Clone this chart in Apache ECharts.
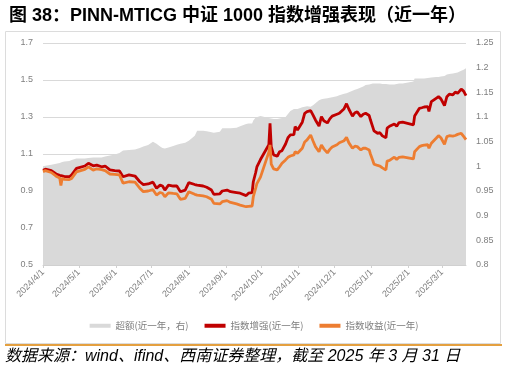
<!DOCTYPE html>
<html>
<head>
<meta charset="utf-8">
<script src="https://cdn.jsdelivr.net/npm/echarts@6/dist/echarts.min.js"></script>
<style>
  html, body { margin: 0; padding: 0; background: #fff; }
  #chart { width: 508px; height: 376px; }
</style>
</head>
<body>
<div id="chart"></div>
<script>
  // month ticks on the x axis
  const monthTicks = ['2024/4/1', '2024/5/1', '2024/6/1', '2024/7/1', '2024/8/1', '2024/9/1',
    '2024/10/1', '2024/11/1', '2024/12/1', '2025/1/1', '2025/2/1', '2025/3/1']

  const dates = [
    '2024-04-01', '2024-04-03', '2024-04-08', '2024-04-12', '2024-04-15', '2024-04-16', '2024-04-17',
    '2024-04-19', '2024-04-23', '2024-04-25', '2024-04-29', '2024-05-06', '2024-05-09', '2024-05-13',
    '2024-05-16', '2024-05-20', '2024-05-23', '2024-05-27', '2024-05-31', '2024-06-04', '2024-06-07',
    '2024-06-12', '2024-06-17', '2024-06-18', '2024-06-21', '2024-06-24', '2024-06-28', '2024-07-02',
    '2024-07-05', '2024-07-08', '2024-07-10', '2024-07-12', '2024-07-15', '2024-07-19', '2024-07-22',
    '2024-07-25', '2024-07-29', '2024-08-01', '2024-08-06', '2024-08-08', '2024-08-13', '2024-08-16',
    '2024-08-20', '2024-08-22', '2024-08-27', '2024-08-29', '2024-09-02', '2024-09-05', '2024-09-10',
    '2024-09-13', '2024-09-18', '2024-09-20', '2024-09-23', '2024-09-24', '2024-09-26', '2024-09-27',
    '2024-09-30', '2024-10-07', '2024-10-08', '2024-10-09', '2024-10-11', '2024-10-14', '2024-10-16',
    '2024-10-18', '2024-10-21', '2024-10-23', '2024-10-25', '2024-10-28', '2024-10-29', '2024-10-31',
    '2024-11-04', '2024-11-06', '2024-11-08', '2024-11-11', '2024-11-13', '2024-11-15', '2024-11-18',
    '2024-11-20', '2024-11-22', '2024-11-25', '2024-11-27', '2024-11-29', '2024-12-03', '2024-12-05',
    '2024-12-09', '2024-12-11', '2024-12-13', '2024-12-16', '2024-12-18', '2024-12-20', '2024-12-23',
    '2024-12-25', '2024-12-27', '2024-12-30', '2024-12-31', '2025-01-02', '2025-01-03', '2025-01-06',
    '2025-01-08', '2025-01-10', '2025-01-13', '2025-01-14', '2025-01-16', '2025-01-20', '2025-01-22',
    '2025-01-24', '2025-01-27', '2025-02-05', '2025-02-06', '2025-02-10', '2025-02-12', '2025-02-14',
    '2025-02-17', '2025-02-18', '2025-02-20', '2025-02-24', '2025-02-26', '2025-02-28', '2025-03-03',
    '2025-03-05', '2025-03-07', '2025-03-10', '2025-03-12', '2025-03-14', '2025-03-17', '2025-03-19',
    '2025-03-21'
  ]

  // 指数增强(近一年) - left axis
  const enhanced = [
    1.012, 1.018, 1.010, 0.992, 0.985, 0.983, 0.982,
    0.978, 0.977, 0.987, 1.022, 1.035, 1.050, 1.036,
    1.040, 1.031, 1.035, 1.014, 1.010, 1.008, 0.977,
    0.987, 0.981, 0.987, 0.950, 0.935, 0.938, 0.948,
    0.915, 0.932, 0.927, 0.905, 0.932, 0.927, 0.927,
    0.896, 0.905, 0.945, 0.935, 0.932, 0.927, 0.920,
    0.905, 0.882, 0.885, 0.900, 0.905, 0.896, 0.891,
    0.888, 0.875, 0.888, 0.891, 0.950, 1.000, 1.030,
    1.070, 1.150, 1.266, 1.140, 1.095, 1.088, 1.112,
    1.118, 1.154, 1.188, 1.203, 1.205, 1.248, 1.230,
    1.272, 1.320, 1.329, 1.334, 1.310, 1.284, 1.251,
    1.302, 1.280, 1.268, 1.290, 1.305, 1.315, 1.320,
    1.345, 1.372, 1.342, 1.305, 1.323, 1.328, 1.302,
    1.315, 1.320, 1.308, 1.285, 1.245, 1.225, 1.212,
    1.215, 1.198, 1.188, 1.240, 1.250, 1.262, 1.250,
    1.270, 1.272, 1.258, 1.305, 1.347, 1.350, 1.354,
    1.356, 1.330, 1.383, 1.401, 1.410, 1.398, 1.362,
    1.410, 1.423, 1.419, 1.435, 1.428, 1.451, 1.440,
    1.415
  ]

  // 指数收益(近一年) - left axis
  const indexRet = [
    1.005, 1.010, 1.000, 0.980, 0.970, 0.930, 0.968,
    0.963, 0.962, 0.968, 1.003, 1.017, 1.031, 1.013,
    1.020, 1.015, 1.010, 0.992, 0.990, 0.987, 0.942,
    0.950, 0.948, 0.945, 0.915, 0.896, 0.900, 0.907,
    0.878, 0.892, 0.888, 0.869, 0.890, 0.887, 0.885,
    0.855, 0.860, 0.896, 0.882, 0.878, 0.874, 0.869,
    0.855, 0.833, 0.830, 0.842, 0.848, 0.838, 0.830,
    0.824, 0.815, 0.817, 0.819, 0.869, 0.915, 0.940,
    0.975, 1.110, 1.149, 1.045, 1.020, 1.014, 1.031,
    1.050, 1.068, 1.082, 1.089, 1.095, 1.112, 1.104,
    1.131, 1.165, 1.176, 1.203, 1.170, 1.140, 1.112,
    1.149, 1.128, 1.106, 1.125, 1.138, 1.150, 1.161,
    1.172, 1.190, 1.160, 1.131, 1.142, 1.140, 1.122,
    1.131, 1.131, 1.122, 1.100, 1.065, 1.045, 1.038,
    1.035, 1.025, 1.014, 1.062, 1.065, 1.083, 1.070,
    1.082, 1.085, 1.073, 1.112, 1.140, 1.145, 1.148,
    1.150, 1.131, 1.158, 1.185, 1.199, 1.188, 1.152,
    1.194, 1.199, 1.197, 1.200, 1.206, 1.212, 1.195,
    1.178
  ]

  // 超额(近一年，右) - right axis
  const excess = [
    1.000, 1.001, 1.003, 1.005, 1.007, 1.008, 1.009,
    1.010, 1.011, 1.013, 1.016, 1.016, 1.017, 1.018,
    1.018, 1.018, 1.020, 1.022, 1.024, 1.027, 1.032,
    1.033, 1.034, 1.034, 1.037, 1.040, 1.043, 1.050,
    1.046, 1.040, 1.037, 1.036, 1.038, 1.041, 1.044,
    1.046, 1.048, 1.052, 1.062, 1.072, 1.072, 1.071,
    1.069, 1.068, 1.070, 1.077, 1.077, 1.077, 1.078,
    1.081, 1.086, 1.087, 1.087, 1.093, 1.099, 1.100,
    1.102, 1.098, 1.100, 1.097, 1.096, 1.096, 1.097,
    1.098, 1.100, 1.106, 1.112, 1.116, 1.120, 1.116,
    1.120, 1.121, 1.122, 1.121, 1.124, 1.128, 1.134,
    1.136, 1.137, 1.138, 1.139, 1.140, 1.142, 1.144,
    1.147, 1.148, 1.150, 1.153, 1.155, 1.157, 1.160,
    1.162, 1.165, 1.166, 1.167, 1.168, 1.168, 1.168,
    1.168, 1.167, 1.167, 1.167, 1.166, 1.166, 1.167,
    1.168, 1.168, 1.172, 1.178, 1.178, 1.178, 1.178,
    1.179, 1.179, 1.180, 1.181, 1.181, 1.182, 1.183,
    1.186, 1.187, 1.188, 1.189, 1.190, 1.194, 1.196,
    1.199
  ]

  const toTime = (s) => {
    const p = s.split(/[-/]/).map(Number)
    return new Date(p[0], p[1] - 1, p[2]).getTime()
  }
  const tickTimes = monthTicks.map(toTime)
  const times = dates.map(toTime)

  const axisLabelStyle = {
    fontSize: 9,
    color: '#7f7f7f',
    fontFamily: 'Liberation Sans',
  }

  const chart = echarts.init(document.getElementById('chart'))

  const option = {
    animation: false,
    title: {
      text: '图 38：PINN-MTICG 中证 1000 指数增强表现（近一年）',
      left: 4,
      top: 2,
      textStyle: {
        fontSize: 18,
        fontWeight: 'bold',
        color: '#000',
        fontFamily: 'Liberation Sans, Noto Sans CJK SC',
      },
    },
    graphic: [
      {
        type: 'rect',
        shape: { x: 5.5, y: 31.5, width: 495, height: 312 },
        style: { fill: 'none', stroke: '#dcdcdc', lineWidth: 1 },
      },
      {
        type: 'line',
        shape: { x1: 5, y1: 345, x2: 502, y2: 345 },
        style: { stroke: '#e4a040', lineWidth: 2 },
      },
      {
        type: 'text',
        left: 5,
        top: 349,
        style: {
          text: '数据来源：wind、ifind、西南证券整理，截至 2025 年 3 月 31 日',
          fontSize: 16,
          fontStyle: 'italic',
          fill: '#000',
          fontFamily: 'Liberation Sans, Noto Sans CJK SC',
        },
      },
    ],
    legend: {
      top: 316,
      left: 'center',
      icon: 'rect',
      itemWidth: 21,
      itemHeight: 4,
      itemGap: 16,
      textStyle: {
        fontSize: 9.5,
        color: '#7f7f7f',
        fontFamily: 'Noto Sans CJK SC',
      },
      data: ['超额(近一年，右)', '指数增强(近一年)', '指数收益(近一年)'],
    },
    grid: {
      left: 43,
      right: 42,
      top: 43,
      bottom: 111,
    },
    xAxis: {
      type: 'value',
      min: toTime('2024-04-01'),
      max: toTime('2025-03-21'),
      axisLine: { lineStyle: { color: '#d0d0d0', width: 1 } },
      axisTick: {
        show: true,
        length: 3,
        customValues: tickTimes,
        lineStyle: { color: '#d0d0d0' },
      },
      splitLine: { show: false },
      axisLabel: {
        ...axisLabelStyle,
        rotate: 45,
        margin: 6,
        customValues: tickTimes,
        formatter: (v) => {
          const i = tickTimes.indexOf(v)
          return i >= 0 ? monthTicks[i] : ''
        },
      },
    },
    yAxis: [
      {
        type: 'value',
        min: 0.5,
        max: 1.7,
        interval: 0.2,
        axisLine: { show: false },
        axisTick: { show: false },
        axisLabel: { ...axisLabelStyle, margin: 10 },
        splitLine: { lineStyle: { color: '#d9d9d9', width: 1 } },
      },
      {
        type: 'value',
        min: 0.8,
        max: 1.25,
        interval: 0.05,
        axisLine: { show: false },
        axisTick: { show: false },
        axisLabel: { ...axisLabelStyle, margin: 10 },
        splitLine: { show: false },
      },
    ],
    series: [
      {
        name: '超额(近一年，右)',
        type: 'line',
        yAxisIndex: 1,
        showSymbol: false,
        data: times.map((t, i) => [t, excess[i]]),
        lineStyle: { width: 0 },
        itemStyle: { color: '#d9d9d9' },
        areaStyle: { color: '#d9d9d9', opacity: 1, origin: 'start' },
      },
      {
        name: '指数增强(近一年)',
        type: 'line',
        showSymbol: false,
        data: times.map((t, i) => [t, enhanced[i]]),
        lineStyle: { color: '#c00000', width: 2.8 },
        itemStyle: { color: '#c00000' },
      },
      {
        name: '指数收益(近一年)',
        type: 'line',
        showSymbol: false,
        data: times.map((t, i) => [t, indexRet[i]]),
        lineStyle: { color: '#ed7d31', width: 2.8 },
        itemStyle: { color: '#ed7d31' },
      },
    ],
  }

  chart.setOption(option)
</script>
</body>
</html>
